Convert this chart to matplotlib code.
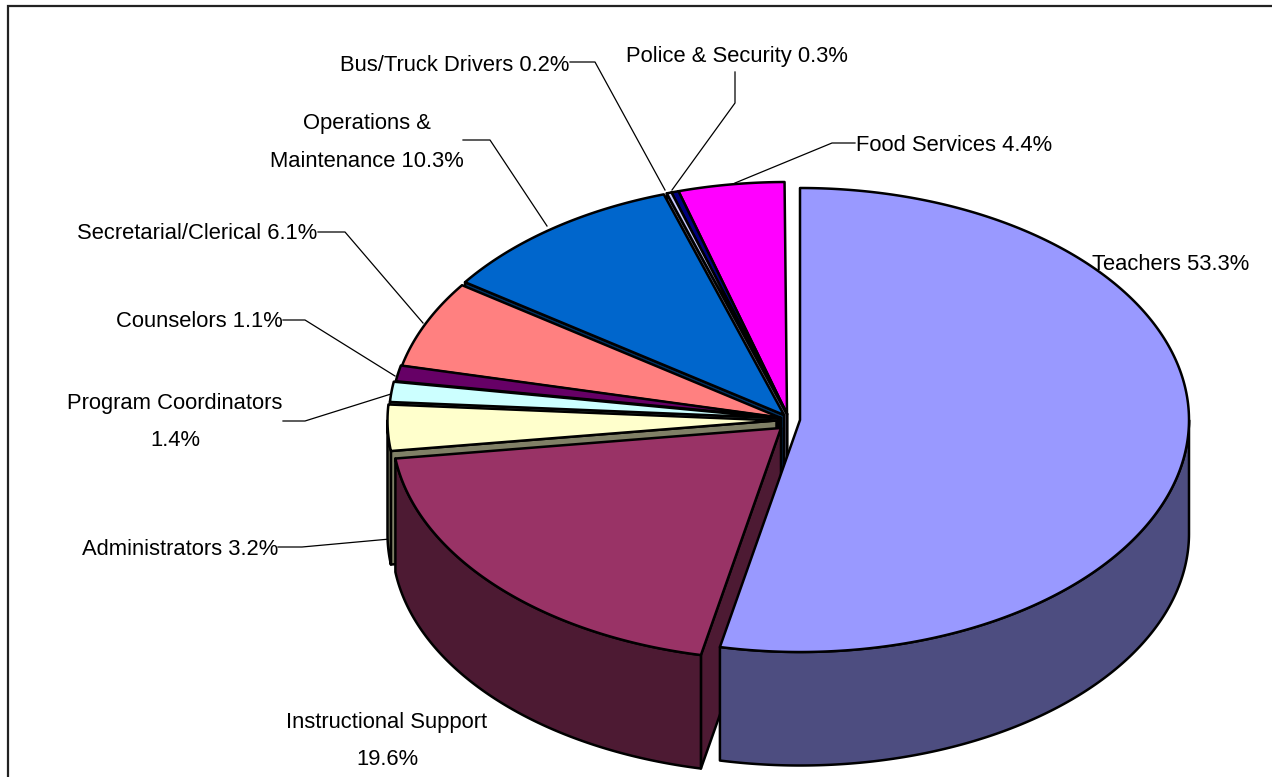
import numpy as np
import matplotlib
matplotlib.use("Agg")
import matplotlib.pyplot as plt
from matplotlib.patches import Polygon

# Staff share by job category, clockwise from twelve o'clock
categories = ["Teachers", "Instructional Support", "Administrators", "Program Coordinators",
              "Counselors", "Secretarial/Clerical", "Operations & Maintenance",
              "Bus/Truck Drivers", "Police & Security", "Food Services"]
shares = [53.3, 19.6, 3.2, 1.4, 1.1, 6.1, 10.3, 0.2, 0.3, 4.4]
top_colors = ["#9999FF", "#993366", "#FFFFCC", "#CCFFFF", "#660066",
              "#FF8080", "#0066CC", "#CCCCFF", "#000080", "#FF00FF"]

# Exploded slice centres on the canvas
centers = [(800, 420), (781, 428), (776.5, 420.5), (778, 418), (780, 417.5),
           (781, 418), (784, 415), (787, 414), (787, 414), (787, 414)]

RX, RY, DEPTH = 389, 232, 113.5
LW = 1.8

fig = plt.figure(figsize=(12.72, 7.77), dpi=100)
ax = fig.add_axes([0, 0, 1, 1])
ax.set_xlim(0, 1272)
ax.set_ylim(777, 0)
ax.axis("off")
plt.rcParams["font.family"] = ["Liberation Sans", "DejaVu Sans"]


def rim(center, a0, a1):
    t = np.radians(np.linspace(a0, a1, max(int(abs(a1 - a0) * 3), 2)))
    return np.column_stack([center[0] + RX * np.sin(t), center[1] - RY * np.cos(t)])


def shade(color):
    rgb = np.array(matplotlib.colors.to_rgb(color))
    return tuple(rgb * 0.5)


def face(points, color, z):
    ax.add_patch(Polygon(points, closed=True, facecolor=color, edgecolor="black",
                         linewidth=LW, joinstyle="round", zorder=z, clip_on=False))


edges = np.concatenate([[0], np.cumsum(shares)]) * 3.6
# Back slices are painted first so that nearer ones overlap them
order = [9, 8, 7, 6, 5, 4, 3, 2, 1, 0]
for z, i in enumerate(order):
    a0, a1 = edges[i], edges[i + 1]
    c = centers[i]
    col = top_colors[i]
    side = shade(col)
    drop = np.array([0, DEPTH])
    if a0 > 0:
        outer = rim(c, a0, a0)[0]
        face([c, outer, outer + drop, np.array(c) + drop], side, z * 3 + 2)
    lo, hi = max(a0, 90), min(a1, 270)
    if lo < hi:
        arc = rim(c, lo, hi)
        face(np.vstack([arc, arc[::-1] + drop]), side, z * 3 + 3)
    face(np.vstack([[c], rim(c, a0, a1)]), col, z * 3 + 4)

# Frame: only the left and top rules fall on the canvas
ax.plot([8, 8, 1272], [777, 6, 6], color="#222222", lw=1.6, zorder=0,
        solid_joinstyle="miter", clip_on=False)

# Labels: text, centre x, centre y
label_text = ["Teachers 53.3%", "Instructional Support\n19.6%", "Administrators 3.2%",
              "Program Coordinators\n1.4%", "Counselors 1.1%", "Secretarial/Clerical 6.1%",
              "Operations &\nMaintenance 10.3%", "Bus/Truck Drivers 0.2%",
              "Police & Security 0.3%", "Food Services 4.4%"]
label_x = [1171, 387, 180, 175, 199, 197, 367, 455, 737, 954]
label_y = [264.5, 741, 549.5, 422, 321.5, 233.5, 142.5, 65.5, 56.5, 145.5]
for s, x, y in zip(label_text, label_x, label_y):
    ax.text(x, y, s, ha="center", va="center", fontsize=15.8, color="black",
            linespacing=2.03, zorder=60)

# Leader lines from the labels to their slices
leaders = [
    ([278, 302, 390], [547, 547, 539]),
    ([283, 305, 391], [421, 421, 394]),
    ([283, 305, 395], [320, 320, 376]),
    ([318, 345, 423], [232, 232, 323]),
    ([463, 490, 547], [140, 140, 226]),
    ([570, 595, 665], [62, 62, 190]),
    ([735, 735, 672], [72, 103, 190]),
    ([855, 832, 735], [143, 143, 183]),
]
for xs, ys in leaders:
    ax.plot(xs, ys, color="black", lw=0.9, zorder=1)

fig.savefig("out.png", dpi=100)
